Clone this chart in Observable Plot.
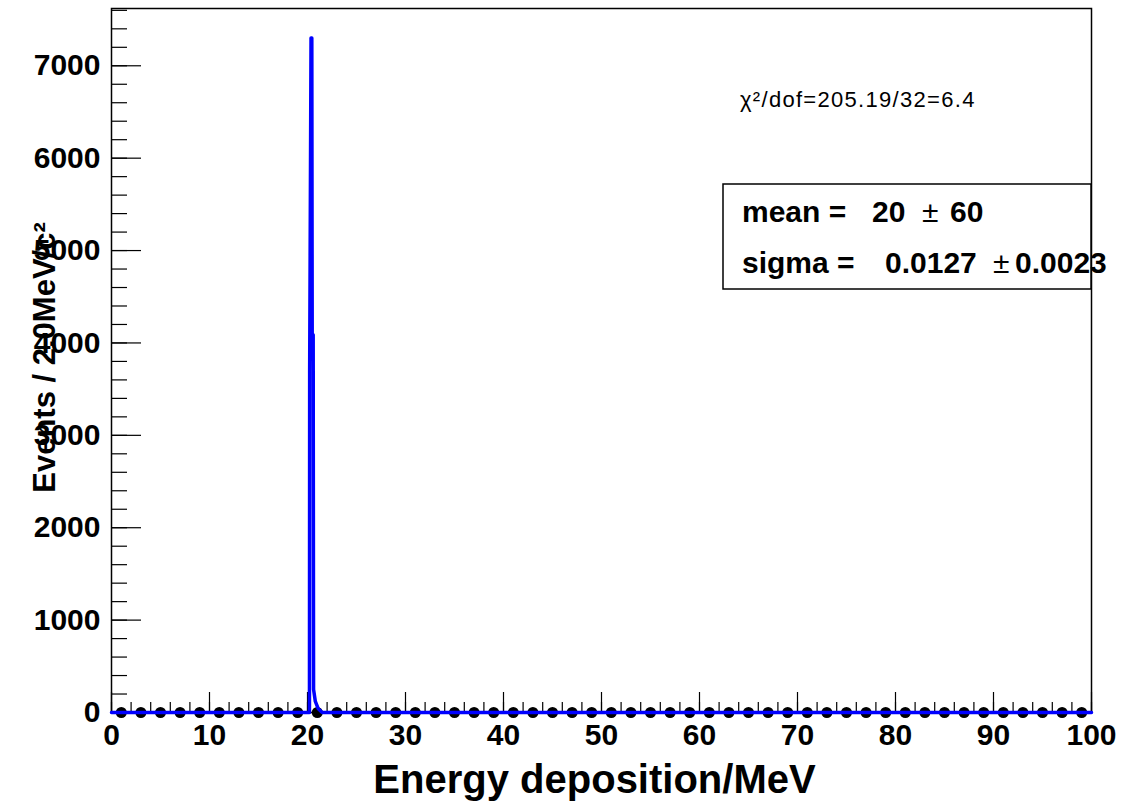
<!DOCTYPE html>
<html>
<head>
<meta charset="utf-8">
<script src="https://cdn.jsdelivr.net/npm/d3@7"></script>
<script src="https://cdn.jsdelivr.net/npm/@observablehq/plot@0.6"></script>
<style>
  html, body { margin: 0; padding: 0; background: white; }
  svg text { white-space: pre; }
</style>
</head>
<body>
<div id="chart"></div>
<script>
// Data points (2 MeV bins), bin centres and counts
const binCenters = [1,3,5,7,9,11,13,15,17,19,21,23,25,27,29,31,33,35,37,39,41,43,45,47,49,
                    51,53,55,57,59,61,63,65,67,69,71,73,75,77,79,81,83,85,87,89,91,93,95,97,99];
const binCounts  = [0,0,0,0,0,0,0,0,0,0,0,0,0,0,0,0,0,0,0,0,0,0,0,0,0,
                    0,0,0,0,0,0,0,0,0,0,0,0,0,0,0,0,0,0,0,0,0,0,0,0,0];
const binHalfWidth = 1;

// Fitted Gaussian curve as drawn (sampled polyline)
const fitX = [0, 20.20, 20.22, 20.36, 20.44, 20.48, 20.58, 20.62, 20.80, 21.1, 21.5, 100];
const fitY = [0, 0,     3680,  7300,  7300,  4090,  4090,  250,   120,   40,   0,    0];

// Axis ticks
const xMajorTicks = [0,10,20,30,40,50,60,70,80,90,100];
const xMinorTicks = d3.range(0, 101, 2);
const yMajorTicks = [0,1000,2000,3000,4000,5000,6000,7000];
const yMinorTicks = d3.range(0, 7601, 200);

const xTitle = "Energy deposition/MeV";
const yTitle = "Events / 2.0MeV/c²";
const chiText = "χ²/dof=205.19/32=6.4";
// stats box: [label, value, error]
const statLabels = ["mean =", "sigma ="];
const statValues = ["20", "0.0127"];
const statErrors = ["60", "0.0023"];

const points = binCenters.map((x, i) => ({x, y: binCounts[i]}));
const fit = fitX.map((x, i) => ({x, y: fitY[i]}));

const font = "'Liberation Sans', Arial, Helvetica, sans-serif";

const plot = Plot.plot({
  width: 1140,
  height: 801,
  marginLeft: 111,
  marginRight: 49,
  marginTop: 8,
  marginBottom: 89,
  x: {domain: [0, 100], label: null},
  y: {domain: [0, 7620], label: null},
  style: {fontFamily: font, background: "white", color: "black"},
  marks: [
    Plot.axisX(xMinorTicks, {tickSize: -10, text: null, strokeWidth: 1.2, label: null}),
    Plot.axisX(xMajorTicks, {tickSize: -20, text: null, strokeWidth: 1.2, label: null}),
    Plot.axisX(xMajorTicks, {tickSize: 0, tickPadding: 11, fontSize: 30, fontWeight: "bold", tickFormat: d => String(d), label: null}),
    Plot.axisY(yMinorTicks, {tickSize: -16, text: null, strokeWidth: 1.2, label: null}),
    Plot.axisY(yMajorTicks, {tickSize: -30, text: null, strokeWidth: 1.2, label: null}),
    Plot.axisY(yMajorTicks, {tickSize: 0, tickPadding: 11, fontSize: 30, fontWeight: "bold", tickFormat: d => String(d), label: null}),
    Plot.frame({stroke: "black", strokeWidth: 1.5}),
    Plot.link(points, {x1: d => d.x - binHalfWidth, x2: d => d.x + binHalfWidth, y1: "y", y2: "y", stroke: "black", strokeWidth: 1.2}),
    Plot.dot(points, {x: "x", y: "y", r: 5.5, fill: "black", stroke: null}),
    Plot.line(fit, {x: "x", y: "y", stroke: "#0000ff", strokeWidth: 3.5, curve: "linear"}),
    Plot.text([xTitle], {frameAnchor: "bottom", textAnchor: "middle", dx: -7, dy: 80, lineAnchor: "bottom", fontSize: 40, fontWeight: "bold", fill: "black"}),
    Plot.text([yTitle], {frameAnchor: "left", textAnchor: "middle", lineAnchor: "middle", dx: -66, dy: -3, rotate: -90, fontSize: 31, fontWeight: "bold", fill: "black"})
  ]
});

document.getElementById("chart").appendChild(plot);

// Annotations: chi2 text and stats box (pixel layout)
const svg = d3.select(plot);
svg.append("text")
  .attr("x", 740).attr("y", 107)
  .attr("text-anchor", "start")
  .attr("letter-spacing", 1.3)
  .attr("font-family", font).attr("font-size", 22).attr("fill", "black")
  .text(chiText);

svg.append("rect")
  .attr("x", 723).attr("y", 184).attr("width", 368).attr("height", 105)
  .attr("fill", "white").attr("stroke", "black").attr("stroke-width", 1.5);

const rowLayout = [
  {y: 222, xVal: 872, xPm: 922, xErr: 950},
  {y: 273, xVal: 885, xPm: 993, xErr: 1015}
];
statLabels.forEach((lab, i) => {
  const L = rowLayout[i];
  const t = svg.append("text")
    .attr("y", L.y)
    .attr("text-anchor", "start")
    .attr("font-family", font).attr("font-size", 30).attr("fill", "black");
  t.append("tspan").attr("x", 742).attr("font-weight", "bold").text(lab);
  t.append("tspan").attr("x", L.xVal).attr("font-weight", "bold").text(statValues[i]);
  t.append("tspan").attr("x", L.xPm).attr("font-weight", "normal").text("±");
  t.append("tspan").attr("x", L.xErr).attr("font-weight", "bold").text(statErrors[i]);
});
</script>
</body>
</html>
